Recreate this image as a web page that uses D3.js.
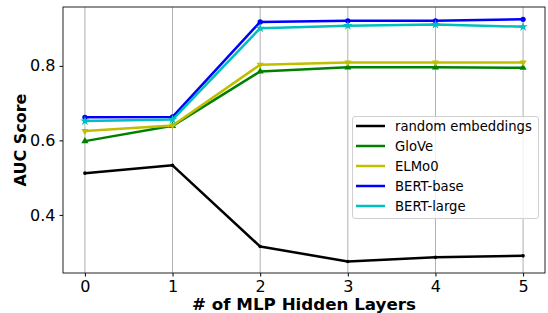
<!DOCTYPE html>
<html>
<head>
<meta charset="utf-8">
<script src="https://cdn.jsdelivr.net/npm/d3@7/dist/d3.min.js"></script>
<style>
  body { margin: 0; background: #fff; }
  svg { font-family: "DejaVu Sans", sans-serif; }
</style>
</head>
<body>
<div id="chart"></div>
<script>
// data
const layers = [0, 1, 2, 3, 4, 5];
const randomEmb = [0.512, 0.533, 0.315, 0.275, 0.286, 0.290];
const glove = [0.598, 0.639, 0.785, 0.796, 0.796, 0.795];
const elmo0 = [0.625, 0.640, 0.803, 0.809, 0.809, 0.809];
const bertBase = [0.662, 0.663, 0.918, 0.921, 0.921, 0.925];
const bertLarge = [0.652, 0.656, 0.901, 0.908, 0.911, 0.905];
const yTicks = [0.4, 0.6, 0.8];

const series = [
  { name: "random embeddings", values: randomEmb, color: "#000000", marker: "dot" },
  { name: "GloVe", values: glove, color: "#008000", marker: "up" },
  { name: "ELMo0", values: elmo0, color: "#bfbf00", marker: "down" },
  { name: "BERT-base", values: bertBase, color: "#0000ff", marker: "circle" },
  { name: "BERT-large", values: bertLarge, color: "#00bfbf", marker: "star" }
];

const W = 548, H = 313;
const pLeft = 63, pRight = 545, pTop = 7, pBottom = 273;

const svg = d3.select("#chart").append("svg").attr("width", W).attr("height", H);

const x = d3.scaleLinear().domain([-0.25, 5.25]).range([pLeft, pRight]);
const y = d3.scaleLinear().domain([0.244, 0.958]).range([pBottom, pTop]);

// vertical grid
svg.append("g").selectAll("line").data(layers).enter().append("line")
  .attr("x1", d => x(d)).attr("x2", d => x(d))
  .attr("y1", pTop).attr("y2", pBottom)
  .attr("stroke", "#b0b0b0").attr("stroke-width", 1);

// axes
const xAxis = svg.append("g").attr("transform", `translate(0,${pBottom})`)
  .call(d3.axisBottom(x).tickValues(layers).tickFormat(d3.format("d")).tickSize(3.5).tickPadding(4));
const yAxis = svg.append("g").attr("transform", `translate(${pLeft},0)`)
  .call(d3.axisLeft(y).tickValues(yTicks).tickFormat(d3.format(".1f")).tickSize(3.5).tickPadding(4));
[xAxis, yAxis].forEach(a => {
  a.select(".domain").remove();
  a.selectAll("text").attr("font-size", 16).attr("font-family", "DejaVu Sans").attr("fill", "#000");
  a.selectAll("line").attr("stroke", "#000");
});

// frame
svg.append("rect").attr("x", pLeft).attr("y", pTop)
  .attr("width", pRight - pLeft).attr("height", pBottom - pTop)
  .attr("fill", "none").attr("stroke", "#222").attr("stroke-width", 1);

const line = d3.line().x((d, i) => x(layers[i])).y(d => y(d));

const markerPath = {
  dot: d3.symbol().type(d3.symbolCircle).size(10)(),
  up: d3.symbol().type(d3.symbolTriangle).size(22)(),
  down: d3.symbol().type(d3.symbolTriangle).size(22)(),
  circle: d3.symbol().type(d3.symbolCircle).size(22)(),
  star: d3.symbol().type(d3.symbolStar).size(28)()
};

series.forEach(s => {
  svg.append("path").datum(s.values)
    .attr("d", line).attr("fill", "none")
    .attr("stroke", s.color).attr("stroke-width", 2.5)
    .attr("stroke-linejoin", "round");
  svg.append("g").selectAll("path").data(s.values).enter().append("path")
    .attr("d", markerPath[s.marker])
    .attr("transform", (d, i) => `translate(${x(layers[i])},${y(d)})` + (s.marker === "down" ? " rotate(180)" : ""))
    .attr("fill", s.color);
});

// axis labels
svg.append("text").attr("x", (pLeft + pRight) / 2).attr("y", 310)
  .attr("text-anchor", "middle").attr("font-size", 16.7).attr("font-weight", "bold")
  .text("# of MLP Hidden Layers");
svg.append("text").attr("transform", `translate(26,${(pTop + pBottom) / 2}) rotate(-90)`)
  .attr("text-anchor", "middle").attr("font-size", 16).attr("font-weight", "bold")
  .text("AUC Score");

// legend
const lg = svg.append("g");
lg.append("rect").attr("x", 352.5).attr("y", 116.5).attr("width", 186).attr("height", 102)
  .attr("rx", 2.5).attr("fill", "#fff").attr("fill-opacity", 0.8)
  .attr("stroke", "#d0d0d0").attr("stroke-width", 1);
series.forEach((s, i) => {
  const yy = 126 + i * 20;
  lg.append("line").attr("x1", 356).attr("x2", 385).attr("y1", yy).attr("y2", yy)
    .attr("stroke", s.color).attr("stroke-width", 2.5);
  lg.append("text").attr("x", 395).attr("y", yy).attr("dy", "0.35em")
    .attr("font-size", 13.2).text(s.name);
});
</script>
</body>
</html>
